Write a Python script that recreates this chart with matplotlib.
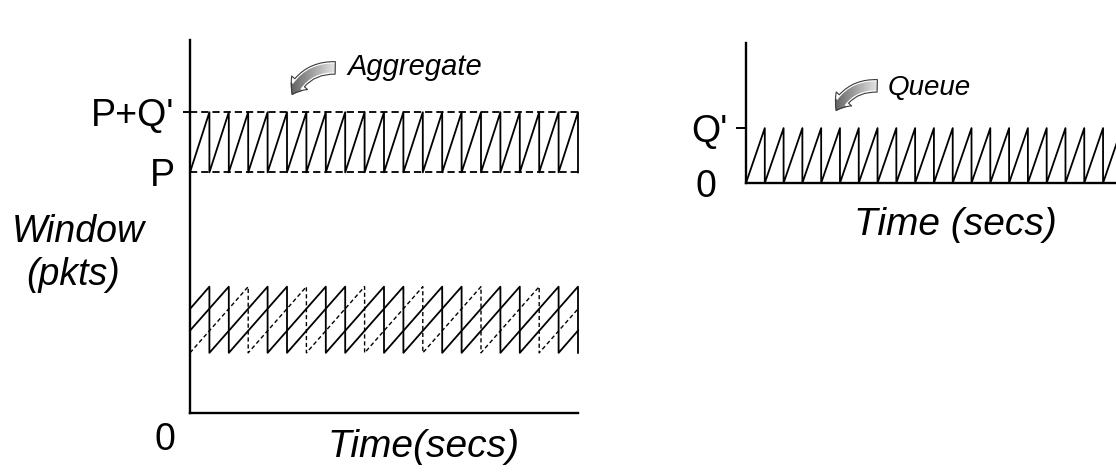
import matplotlib
matplotlib.use("Agg")
import matplotlib.pyplot as plt
import numpy as np
from matplotlib.patches import FancyArrowPatch

plt.rcParams['font.family'] = ['Liberation Sans', 'DejaVu Sans']

# ---------------- data ----------------
# left chart: aggregate window between P and P+Q'
P = 4.0
P_Q = 5.0
agg_drop_times = [1, 2, 3, 4, 5, 6, 7, 8, 9, 10, 11, 12, 13, 14, 15, 16, 17, 18, 19, 20]
agg_start = 4.0

# individual flows (three staggered sawtooths)
flow_low = 1.0
flow_high = 2.1
flow_a_drops = [1, 4, 7, 10, 13, 16, 19]
flow_b_drops = [2, 5, 8, 11, 14, 17, 20]
flow_c_drops = [3, 6, 9, 12, 15, 18]
flow_a_start = 1.73
flow_b_start = 1.37
flow_c_start = 1.0
flow_a_end = 1.37
flow_c_end = 1.73

# right chart: queue between 0 and Q'
Q = 1.0
queue_drop_times = [1, 2, 3, 4, 5, 6, 7, 8, 9, 10, 11, 12, 13, 14, 15, 16, 17, 18, 19, 20]
queue_start = 0.0
queue_end_t = 20.7
queue_end_w = 0.7

left_yticks = ["P", "P+Q'"]
right_yticks = ["0", "Q'"]


def sawtooth(drops, start_w, low, high, t0, t_end, end_w):
    ts, ws = [t0], [start_w]
    for d in drops:
        ts += [d, d]
        ws += [high, low]
    if t_end is not None and t_end > drops[-1]:
        ts.append(t_end)
        ws.append(end_w)
    return ts, ws


W, H = 1116, 473
fig = plt.figure(figsize=(W / 100, H / 100), dpi=100)

def fx(px):
    return px / W

def fy(py):
    return 1 - py / H

lw_axis = 1.7
lw_line = 1.3
dash = (0, (4.0, 2.2))

# ---------------- left chart ----------------
axL = fig.add_axes([fx(190), fy(413), fx(578) - fx(190), fy(40) - fy(413)])
axL.set_xlim(0, 20)
axL.set_ylim(0, 6.2)
for s in ['top', 'right']:
    axL.spines[s].set_visible(False)
axL.spines['left'].set_linewidth(lw_axis)
axL.spines['bottom'].set_linewidth(lw_axis)
axL.set_xticks([])
axL.set_yticks([P_Q])
axL.set_yticklabels([left_yticks[1]], fontsize=27)
axL.set_yticks([P], minor=True)
axL.set_yticklabels([left_yticks[0]], minor=True, fontsize=27)
axL.tick_params(axis='y', which='major', length=5, width=1.4, pad=6)
axL.tick_params(axis='y', which='minor', length=0, pad=11)

axL.hlines([P, P_Q], 0, 20, colors='black', linestyles=[dash], linewidth=lw_line, clip_on=False)
t, w = sawtooth(agg_drop_times, agg_start, P, P_Q, 0, None, None)
axL.plot(t, w, color='black', lw=lw_line, clip_on=False)

t, w = sawtooth(flow_a_drops, flow_a_start, flow_low, flow_high, 0, 20, flow_a_end)
axL.plot(t, w, color='black', lw=lw_line, clip_on=False)
t, w = sawtooth(flow_b_drops, flow_b_start, flow_low, flow_high, 0, None, None)
axL.plot(t, w, color='black', lw=lw_line, clip_on=False)
t, w = sawtooth(flow_c_drops, flow_c_start, flow_low, flow_high, 0, 20, flow_c_end)
axL.plot(t, w, color='black', lw=1.0, ls=(0, (3, 2)), clip_on=False)

fig.text(fx(78), fy(232), "Window", fontsize=27, style='italic', ha='center', va='center')
fig.text(fx(73), fy(275), "(pkts)", fontsize=27, style='italic', ha='center', va='center')
fig.text(fx(165), fy(440), "0", fontsize=27, ha='center', va='center')
fig.text(fx(424), fy(447), "Time(secs)", fontsize=28, style='italic', ha='center', va='center')
fig.text(fx(347), fy(67), "Aggregate", fontsize=21, style='italic', ha='left', va='center')

# ---------------- right chart ----------------
axR = fig.add_axes([fx(746), fy(183), fx(1135) - fx(746), fy(43) - fy(183)])
axR.set_xlim(0, 20.7)
axR.set_ylim(0, 2.55)
for s in ['top', 'right']:
    axR.spines[s].set_visible(False)
axR.spines['left'].set_linewidth(lw_axis)
axR.spines['bottom'].set_linewidth(lw_axis)
axR.set_xticks([])
axR.set_yticks([Q])
axR.set_yticklabels([right_yticks[1]], fontsize=27)
axR.set_yticks([0], minor=True)
axR.set_yticklabels([right_yticks[0]], minor=True, fontsize=27)
axR.tick_params(axis='y', which='major', length=7, width=1.4, pad=6)
axR.tick_params(axis='y', which='minor', length=0, pad=21)
t, w = sawtooth(queue_drop_times, queue_start, 0.0, Q, 0, queue_end_t, queue_end_w)
axR.plot(t, w, color='black', lw=lw_line)

fig.text(fx(888), fy(88), "Queue", fontsize=20, style='italic', ha='left', va='center')
fig.text(fx(955), fy(225), "Time (secs)", fontsize=28, style='italic', ha='center', va='center')

# ---------------- curved gradient arrows ----------------
axO = fig.add_axes([0, 0, 1, 1], zorder=5)
axO.set_xlim(0, W)
axO.set_ylim(H, 0)
axO.axis('off')
axO.patch.set_alpha(0)

grad = np.linspace(0.25, 0.97, 64)[None, :]

def curved_arrow(p0, p1):
    a = FancyArrowPatch(p0, p1,
                        arrowstyle="simple,head_width=15,head_length=10,tail_width=9",
                        mutation_scale=1, connectionstyle="arc3,rad=0.35",
                        facecolor='none', edgecolor='#3a3a3a', lw=0.8, zorder=3)
    axO.add_patch(a)
    x0, x1 = min(p0[0], p1[0]) - 12, max(p0[0], p1[0]) + 4
    y0, y1 = min(p0[1], p1[1]) - 14, max(p0[1], p1[1]) + 12
    im = axO.imshow(grad, cmap='gray', vmin=0, vmax=1, aspect='auto',
                    extent=(x0, x1, y1, y0), zorder=2, interpolation='bilinear')
    im.set_clip_path(a)

curved_arrow((338, 68), (291, 97))
curved_arrow((880, 86), (835, 113))
axO.set_xlim(0, W)
axO.set_ylim(H, 0)

fig.savefig("out.png", dpi=100)
